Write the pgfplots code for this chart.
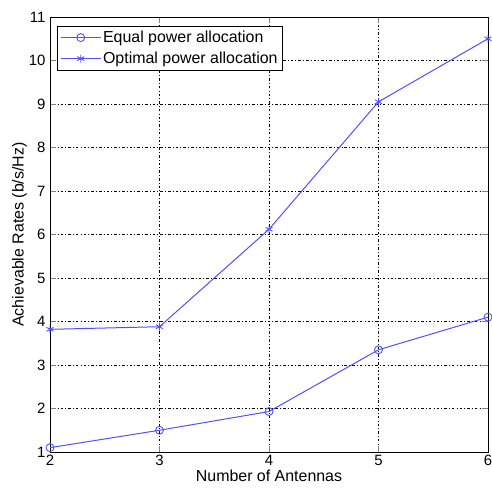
\documentclass[border=0pt]{standalone}
\usepackage{pgfplots}
\pgfplotsset{compat=1.18}
\usepackage{fontspec}
\setmainfont{Liberation Sans}
\definecolor{lineblue}{RGB}{80,80,255}
\begin{document}
\begin{tikzpicture}
\begin{axis}[
  scale only axis,
  width=438bp, height=435bp,
  xmin=2, xmax=6, ymin=1, ymax=11,
  xtick={2,3,4,5,6}, ytick={1,2,...,11},
  tick align=inside,
  tick pos=both,
  major tick length=6bp,
  grid=major,
  major grid style={black, line width=0.6pt, dash pattern=on 0.8pt off 2.2pt on 2.5pt off 2.2pt},
  axis line style={black, line width=0.8pt},
  /pgf/number format/assume math mode=true,
  tick label style={font=\fontsize{15}{17}\selectfont},
  label style={font=\fontsize{16}{18}\selectfont},
  xlabel={Number of Antennas},
  ylabel={Achievable Rates (b/s/Hz)},
  xlabel style={yshift=3bp},
  ylabel style={yshift=-5bp},
  yticklabel style={xshift=-1bp},
  legend style={at={(0.016,0.98)}, anchor=north west, font=\fontsize{16}{18}\selectfont, draw=black, line width=0.8pt, row sep=4pt, inner sep=3pt},
  legend cell align=left,
  legend image code/.code={\draw[mark repeat=2,mark phase=2] plot coordinates {(0cm,0cm) (0.7cm,0cm) (1.4cm,0cm)};},
]
\addplot[lineblue, line width=1pt, mark=o, mark size=4pt, mark options={solid, line width=0.9pt}] coordinates {
(2,1.1) (3,1.5) (4,1.93) (5,3.35) (6,4.1)};
\addlegendentry{Equal power allocation}
\addplot[lineblue, line width=1pt, mark=asterisk, mark size=4pt, mark options={solid, line width=0.9pt}] coordinates {
(2,3.82) (3,3.88) (4,6.12) (5,9.05) (6,10.5)};
\addlegendentry{Optimal power allocation}
\end{axis}
\pgfresetboundingbox
\path ([xshift=-50bp,yshift=-41bp]current axis.south west) rectangle ([xshift=4bp,yshift=17bp]current axis.north east);
\end{tikzpicture}
\end{document}
